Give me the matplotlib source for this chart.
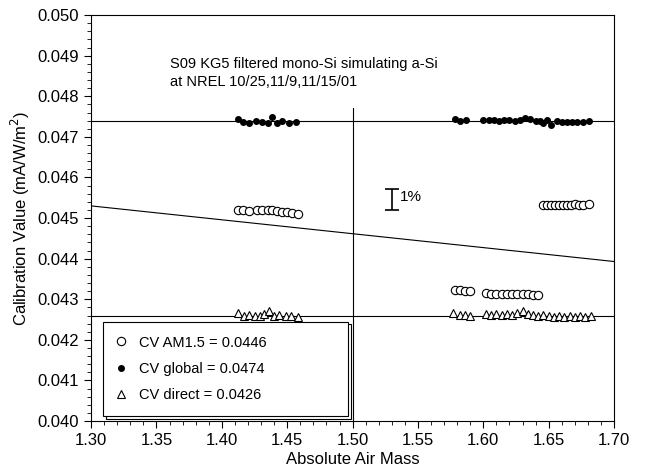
import numpy as np
import matplotlib
matplotlib.use('Agg')
from matplotlib import pyplot as plt
from matplotlib.ticker import MultipleLocator, FormatStrFormatter

plt.rcParams['font.family'] = ['Liberation Sans', 'DejaVu Sans']
plt.rcParams['font.size'] = 12

# DATA
# CV global (filled dots)
glob_x = [1.412, 1.416, 1.421, 1.426, 1.431, 1.435, 1.438, 1.442, 1.446, 1.451, 1.457,
          1.578, 1.582, 1.587,
          1.600, 1.604, 1.608, 1.612, 1.616, 1.620, 1.624, 1.628, 1.632, 1.636, 1.640,
          1.643, 1.646, 1.649, 1.652, 1.656, 1.660, 1.664, 1.668, 1.672, 1.676, 1.681]
glob_y = [0.04745, 0.04737, 0.04735, 0.04738, 0.04737, 0.04735, 0.04748, 0.04733, 0.04738, 0.04735, 0.04736,
          0.04745, 0.04740, 0.04741,
          0.04742, 0.04742, 0.04741, 0.04740, 0.04742, 0.04741, 0.04739, 0.04742, 0.04746, 0.04743, 0.04738,
          0.04740, 0.04734, 0.04741, 0.04730, 0.04738, 0.04736, 0.04737, 0.04736, 0.04737, 0.04736, 0.04738]

# CV AM1.5 (open circles)
am_x = [1.412, 1.416, 1.421, 1.427, 1.431, 1.435, 1.438, 1.442, 1.446, 1.450, 1.454, 1.458,
        1.578, 1.582, 1.586, 1.590,
        1.602, 1.606, 1.610, 1.614, 1.618, 1.622, 1.626, 1.630, 1.634, 1.638, 1.642,
        1.646, 1.649, 1.652, 1.655, 1.658, 1.661, 1.664, 1.667, 1.670, 1.673, 1.676, 1.681]
am_y = [0.04520, 0.04520, 0.04518, 0.04520, 0.04520, 0.04519, 0.04520, 0.04518, 0.04515, 0.04514, 0.04513, 0.04509,
        0.04323, 0.04322, 0.04320, 0.04320,
        0.04315, 0.04313, 0.04313, 0.04314, 0.04313, 0.04313, 0.04313, 0.04312, 0.04312, 0.04311, 0.04311,
        0.04533, 0.04532, 0.04533, 0.04532, 0.04532, 0.04532, 0.04533, 0.04532, 0.04534, 0.04533, 0.04533, 0.04534]

# CV direct (open triangles)
dir_x = [1.412, 1.417, 1.421, 1.425, 1.429, 1.432, 1.436, 1.440, 1.444, 1.449, 1.453, 1.458,
         1.577, 1.582, 1.586, 1.590,
         1.602, 1.606, 1.610, 1.614, 1.618, 1.622, 1.626, 1.630, 1.634, 1.638, 1.642,
         1.646, 1.650, 1.654, 1.658, 1.662, 1.666, 1.670, 1.674, 1.678, 1.682]
dir_y = [0.04265, 0.04258, 0.04262, 0.04260, 0.04258, 0.04263, 0.04270, 0.04260, 0.04262, 0.04258, 0.04260, 0.04257,
         0.04265, 0.04262, 0.04262, 0.04258,
         0.04263, 0.04262, 0.04263, 0.04261, 0.04264, 0.04262, 0.04265, 0.04270, 0.04264, 0.04262, 0.04260,
         0.04262, 0.04258, 0.04257, 0.04258, 0.04257, 0.04258, 0.04257, 0.04258, 0.04257, 0.04258]

CV_GLOBAL = 0.0474
CV_DIRECT = 0.0426
# AM1.5 fit line end points
fit_x = [1.30, 1.70]
fit_y = [0.04530, 0.04393]
AM_REF = 1.50
VLINE_TOP = 0.0477

fig = plt.figure(figsize=(6.46, 4.71), dpi=100)
ax = fig.add_axes([0.141, 0.106, 0.8096, 0.862])

ax.axhline(CV_GLOBAL, color='black', lw=0.8)
ax.axhline(CV_DIRECT, color='black', lw=0.8)
ax.plot(fit_x, fit_y, color='black', lw=0.8)
ax.plot([AM_REF, AM_REF], [0.040, VLINE_TOP], color='black', lw=0.8)

ax.plot(am_x, am_y, 'o', mfc='white', mec='black', ms=6, mew=0.8, ls='none',
        label='CV AM1.5 = 0.0446')
ax.plot(glob_x, glob_y, 'o', mfc='black', mec='black', ms=4, ls='none',
        label='CV global = 0.0474')
ax.plot(dir_x, dir_y, '^', mfc='white', mec='black', ms=5.5, mew=0.8, ls='none',
        label='CV direct = 0.0426')

# 1% bar
ax.errorbar([1.530], [0.04546], yerr=[[0.00025], [0.00025]], fmt='none',
            ecolor='black', elinewidth=1.2, capsize=5, capthick=1.2)
ax.text(1.536, 0.04552, '1%', ha='left', va='center', fontsize=11)

ax.text(1.360, 0.04857, 'S09 KG5 filtered mono-Si simulating a-Si\nat NREL 10/25,11/9,11/15/01',
        ha='left', va='center', fontsize=10.5, linespacing=1.35)

ax.set_xlim(1.30, 1.70)
ax.set_ylim(0.040, 0.050)
ax.xaxis.set_major_locator(MultipleLocator(0.05))
ax.xaxis.set_minor_locator(MultipleLocator(0.01))
ax.yaxis.set_major_locator(MultipleLocator(0.001))
ax.yaxis.set_minor_locator(MultipleLocator(0.0002))
ax.xaxis.set_major_formatter(FormatStrFormatter('%.2f'))
ax.yaxis.set_major_formatter(FormatStrFormatter('%.3f'))
ax.tick_params(which='major', direction='out', length=5, width=0.8, labelsize=12)
ax.tick_params(which='minor', direction='out', length=3, width=0.6)
for s in ax.spines.values():
    s.set_linewidth(0.8)

ax.set_xlabel('Absolute Air Mass', fontsize=12, labelpad=3)
ax.set_ylabel('Calibration Value (mA/W/m$^2$)', fontsize=12, labelpad=4)

leg = ax.legend(loc='lower left', bbox_to_anchor=(0.023, 0.012, 0.468, 0.232), mode='expand',
                fancybox=False, edgecolor='black', framealpha=1, fontsize=10.5,
                handlelength=0.6, handletextpad=0.9, borderpad=0.95, labelspacing=0.85,
                borderaxespad=0,
                shadow={'facecolor': 'white', 'edgecolor': 'black', 'alpha': 1, 'linewidth': 0.8})
leg.get_frame().set_linewidth(0.8)

fig.savefig('out.png', dpi=100)
